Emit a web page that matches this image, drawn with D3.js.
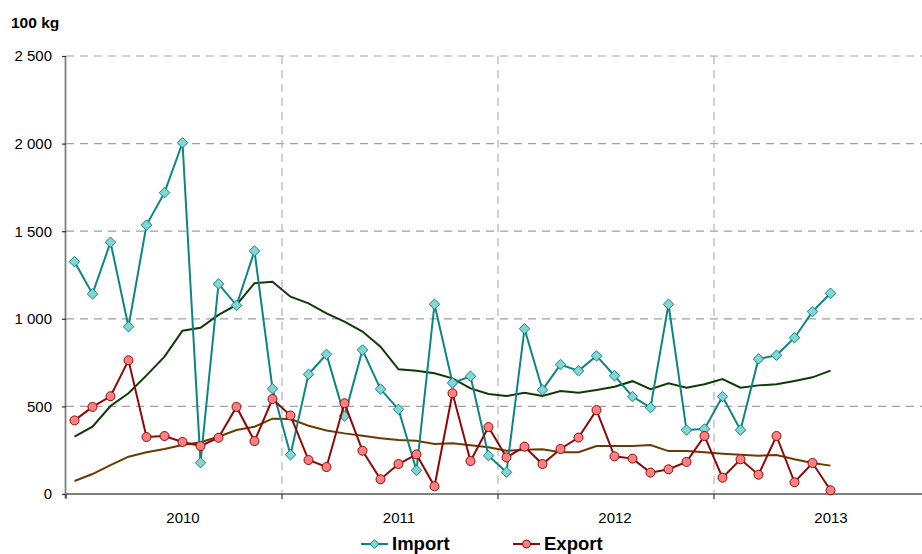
<!DOCTYPE html>
<html><head><meta charset="utf-8">
<script src="https://cdn.jsdelivr.net/npm/d3@7"></script>
<style>
html,body{margin:0;padding:0;background:#fff;}
svg{display:block;font-family:"Liberation Sans",Arial,sans-serif;}
</style></head>
<body><svg id="c" width="922" height="554"></svg>
<script>
const years = ["2010","2011","2012","2013"];
const yTicks = [0,500,1000,1500,2000,2500];
const unitLabel = "100 kg";
const seriesNames = ["Import","Export"];
const importVals = [1326,1142,1437,955,1535,1720,2005,179,1199,1077,1387,601,224,
  683,797,445,822,599,483,135,1083,634,672,219,124,943,
  594,739,703,788,675,556,493,1083,365,371,556,365,771,792,892,1041,1146];
const exportVals = [420,497,558,763,325,331,297,274,321,497,302,542,448,
  194,154,518,247,84,171,226,44,575,188,382,209,270,
  171,257,322,479,215,202,122,141,183,331,93,198,110,331,67,177,21];
const importTrend = [327,384,502,575,677,784,932,949,1022,1079,1203,1212,1126,
  1088,1031,984,927,841,712,704,689,660,603,571,559,578,
  559,588,578,594,612,644,598,632,607,626,656,607,620,626,645,666,704];
const exportTrend = [74,114,165,213,238,257,280,295,327,365,384,430,428,
  390,363,346,333,318,308,304,285,289,278,267,247,253,
  255,238,238,274,274,274,280,245,245,238,230,224,219,223,198,177,162];

(function () {
const months = [];
years.forEach(yy => { for (let m = 1; m <= 12; m++) months.push(yy + "-" + String(m).padStart(2,"0")); });

const svg = d3.select("#c");
const pL = 66, pB = 494, pT = 56, pR = 922;
const x = d3.scaleBand().domain(months).range([pL, pL + 18 * months.length]).paddingInner(0).paddingOuter(0);
const y = d3.scaleLinear().domain([0, 2500]).range([pB, pT]);
const cx = i => x(months[i]) + x.bandwidth() / 2 - 0.5;
const loc = d3.formatLocale({decimal: ",", thousands: " ", grouping: [3], currency: ["", ""]});
const fmt = loc.format(",d");

svg.append("g").selectAll("line").data(yTicks.filter(d => d > 0)).join("line")
  .attr("x1", pL).attr("x2", pR).attr("y1", d => y(d)).attr("y2", d => y(d))
  .attr("stroke", "#a0a0a0").attr("stroke-width", 1.2).attr("stroke-dasharray", "8,6");

const seps = years.slice(1).map(yy => yy + "-01");
svg.append("g").selectAll("line").data(seps).join("line")
  .attr("x1", d => x(d)).attr("x2", d => x(d)).attr("y1", pT).attr("y2", pB)
  .attr("stroke", "#b4b4b4").attr("stroke-width", 1.2).attr("stroke-dasharray", "8,6");

const yAxis = d3.axisLeft(y).tickValues(yTicks).tickFormat(fmt).tickSize(4).tickPadding(10);
const gy = svg.append("g").attr("transform", `translate(${pL},0)`).call(yAxis);
gy.select(".domain").attr("stroke", "#7f7f7f").attr("stroke-width", 1.8).attr("d", `M-0.5,${pT}V${pB+4}`);
gy.selectAll(".tick line").attr("stroke", "#333").attr("stroke-width", 1.2);
gy.selectAll(".tick text").attr("font-size", "15px").attr("fill", "#000")
  .attr("font-family", "'Liberation Sans',Arial,sans-serif");

const gx = svg.append("g");
gx.append("line").attr("x1", pL - 1).attr("x2", pR).attr("y1", pB).attr("y2", pB)
  .attr("stroke", "#7f7f7f").attr("stroke-width", 1.8);
gx.selectAll("line.t").data(years.map(yy => yy + "-01")).join("line").attr("class", "t")
  .attr("x1", d => x(d)).attr("x2", d => x(d)).attr("y1", pB).attr("y2", pB + 5)
  .attr("stroke", "#333").attr("stroke-width", 1.2);
gx.selectAll("text").data(years).join("text")
  .attr("x", d => x(d + "-07") + x.bandwidth() / 2).attr("y", 523).attr("text-anchor", "middle")
  .attr("font-size", "15px").attr("fill", "#000").text(d => d);

svg.append("text").attr("x", 11).attr("y", 28).attr("font-size", "15.5px").attr("font-weight", "bold").text(unitLabel);

const line = d3.line().x((d, i) => cx(i)).y(d => y(d));

svg.append("path").datum(exportTrend).attr("d", line).attr("fill", "none")
  .attr("stroke", "#6b3a00").attr("stroke-width", 2);
svg.append("path").datum(importTrend).attr("d", line).attr("fill", "none")
  .attr("stroke", "#0d3b06").attr("stroke-width", 2);

const impCol = "#0e8585", impFill = "#84d6d6";
const expCol = "#8c0a0a", expFill = "#ff8080";
const diamond = d3.symbol().type(d3.symbolDiamond2).size(70);

svg.append("path").datum(importVals).attr("d", line).attr("fill", "none")
  .attr("stroke", impCol).attr("stroke-width", 2);
svg.append("g").selectAll("path").data(importVals).join("path")
  .attr("d", diamond).attr("transform", (d, i) => `translate(${cx(i)},${y(d)})`)
  .attr("fill", impFill).attr("stroke", impCol).attr("stroke-width", 1);

svg.append("path").datum(exportVals).attr("d", line).attr("fill", "none")
  .attr("stroke", expCol).attr("stroke-width", 2);
svg.append("g").selectAll("circle").data(exportVals).join("circle")
  .attr("cx", (d, i) => cx(i)).attr("cy", d => y(d)).attr("r", 4.5)
  .attr("fill", expFill).attr("stroke", expCol).attr("stroke-width", 1);

const leg = svg.append("g");
const legItems = [
  {name: seriesNames[0], x0: 361, col: impCol, fill: impFill, type: "d"},
  {name: seriesNames[1], x0: 513, col: expCol, fill: expFill, type: "c"}
];
legItems.forEach(it => {
  leg.append("line").attr("x1", it.x0).attr("x2", it.x0 + 27).attr("y1", 544).attr("y2", 544)
    .attr("stroke", it.col).attr("stroke-width", 2);
  if (it.type === "d") {
    leg.append("path").attr("d", d3.symbol().type(d3.symbolDiamond2).size(50)())
      .attr("transform", `translate(${it.x0 + 13.5},544)`).attr("fill", it.fill).attr("stroke", it.col);
  } else {
    leg.append("circle").attr("cx", it.x0 + 13.5).attr("cy", 544).attr("r", 4)
      .attr("fill", it.fill).attr("stroke", it.col);
  }
  leg.append("text").attr("x", it.x0 + 31).attr("y", 550).attr("font-size", "18.5px")
    .attr("font-weight", "bold").text(it.name);
});
})();
</script>
</body></html>
